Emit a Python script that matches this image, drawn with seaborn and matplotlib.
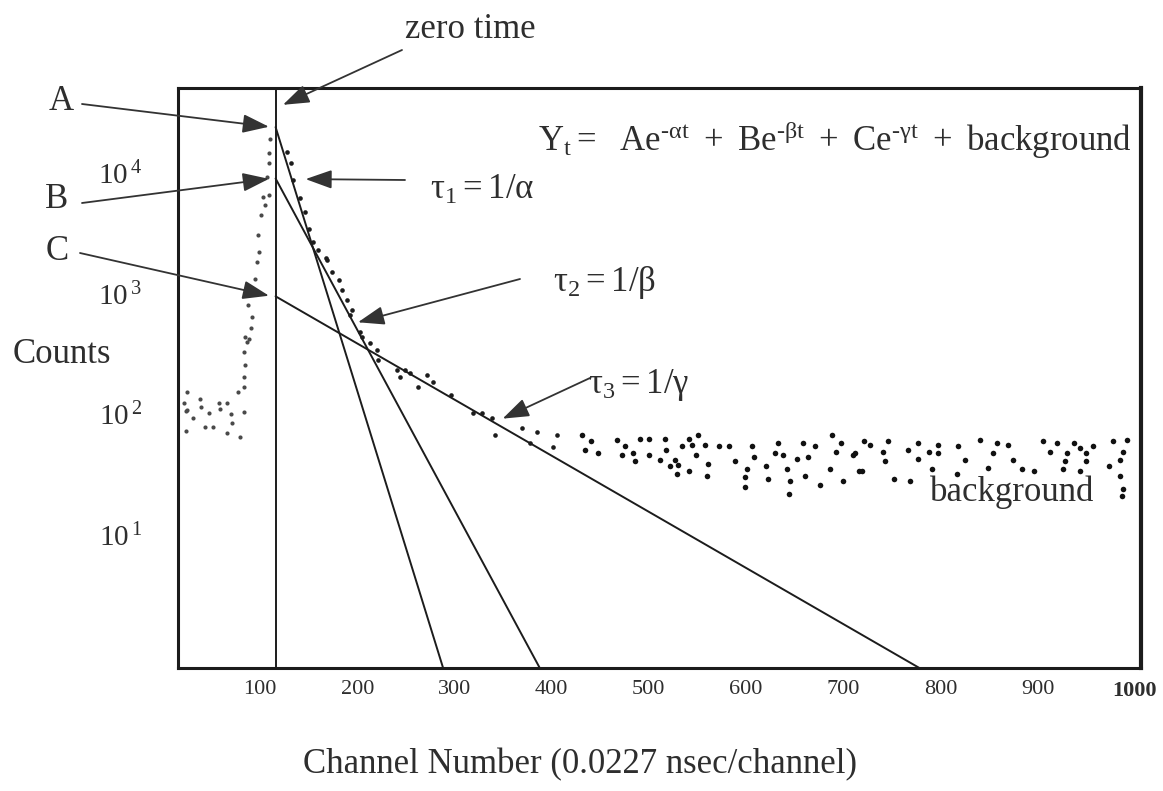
import numpy as np
import pandas as pd
import matplotlib
matplotlib.use("Agg")
import matplotlib.pyplot as plt
from matplotlib.ticker import NullLocator
import seaborn as sns

# ---------------------------------------------------------------------------
# Fit components: Y(t) = A e^{-t/tau1} + B e^{-t/tau2} + C e^{-t/tau3} + bg
# ---------------------------------------------------------------------------
zero_time = 116                       # channel of zero time
components = ["A", "B", "C"]
amplitudes = [24000, 9000, 950]       # counts at zero time
lifetimes = [16.7, 29.1, 93.4]        # channels

# Measured spectrum: flat pre-peak region and rising edge
rise_channel = [22, 25, 24, 25, 38, 39, 47, 31, 58, 66, 59, 70, 83, 43, 52, 71, 24, 66, 79,
                77, 83, 84, 85, 83, 87, 89, 85, 91, 92, 88, 95, 97, 99, 98, 101, 105, 103,
                109, 107, 109, 109, 110]
rise_counts = [124, 109, 107, 153, 134, 115, 103, 93, 124, 124, 111, 101, 105, 79, 79, 85, 73, 70, 65,
               153, 169, 204, 257, 329, 398, 421, 438, 520, 641, 806, 1320, 1830, 2210, 3070, 4490,
               5430, 6330, 6580, 9270, 12100, 14600, 19100]

# Measured spectrum: multi-exponential decay
decay_channel = [128, 132, 134, 141, 146, 150, 155, 160, 168, 169, 174, 181, 184, 189, 193, 195,
                 203, 205, 213, 220, 221, 241, 244, 249, 254, 263, 272, 278, 296, 319, 328, 339,
                 342, 370, 378, 385, 401, 406]
decay_counts = [14900, 12100, 8750, 6210, 4760, 3430, 2680, 2300, 1980, 1900, 1510, 1300, 1070, 887,
                667, 733, 482, 438, 391, 342, 283, 234, 204, 234, 220, 169, 212, 185, 145, 103, 103,
                93, 67, 77, 58, 71, 54, 67]

# Measured spectrum: constant background tail
bg_channel = [431, 441, 434, 448, 467, 476, 491, 500, 472, 484, 486, 500, 512, 517, 518, 527, 522,
              530, 529, 534, 541, 551, 544, 549, 541, 558, 561, 560, 572, 582, 589, 601, 599, 599,
              606, 608, 621, 623, 633, 630, 638, 642, 645, 644, 659, 652, 664, 671, 661, 676, 688,
              698, 693, 686, 700, 710, 716, 721, 712, 719, 728, 741, 746, 743, 752, 769, 767, 777,
              777, 788, 798, 798, 791, 818, 825, 817, 841, 858, 854, 870, 875, 849, 884, 896, 906,
              913, 920, 930, 928, 926, 937, 944, 950, 950, 944, 957, 978, 992, 988, 985, 973, 985,
              988, 987]
bg_counts = [67, 60, 51, 48, 61, 55, 63, 63, 46, 48, 41, 46, 42, 63, 51, 42, 37, 38, 32, 55, 63, 67,
             56, 46, 34, 56, 39, 31, 55, 55, 41, 35, 30, 25, 55, 44, 37, 29, 58, 48, 46, 35, 28, 22,
             58, 43, 44, 55, 31, 26, 67, 58, 49, 35, 28, 46, 34, 60, 48, 34, 56, 49, 60, 41, 29, 28,
             51, 58, 43, 49, 56, 48, 35, 55, 42, 32, 61, 58, 48, 56, 42, 36, 35, 34, 60, 49, 58, 48,
             41, 35, 58, 53, 48, 41, 34, 55, 60, 61, 49, 42, 37, 31, 24, 21]

x_ticks = [100, 200, 300, 400, 500, 600, 700, 800, 900, 1000]
y_ticks = [10, 100, 1000, 10000]
y_tick_labels = [r"$\mathregular{10^{\,1}}$", r"$\mathregular{10^{\,2}}$",
                 r"$\mathregular{10^{\,3}}$", r"$\mathregular{10^{\,4}}$"]

# ---------------------------------------------------------------------------
sns.set_style("white")
plt.rcParams["font.family"] = ["Liberation Serif", "DejaVu Serif"]
plt.rcParams["mathtext.fontset"] = "custom"
plt.rcParams["mathtext.rm"] = "Liberation Serif"
plt.rcParams["mathtext.it"] = "Liberation Serif"

W, H = 1163, 791
fig = plt.figure(figsize=(W / 100, H / 100), dpi=100)
ax = fig.add_axes([178 / W, 1 - 668 / H, (1141 - 178) / W, (668 - 88) / H])
ax.set_yscale("log")

ink = "#1c1c1c"
text_ink = "#2e2e2e"


def fig_xy(px, py):
    """Figure-fraction position from pixel offsets measured from the top-left."""
    return px / W, 1 - py / H


# fitted exponential components
chan = np.linspace(zero_time, 1010, 600)
rows = []
for name, amp, tau in zip(components, amplitudes, lifetimes):
    vals = amp * np.exp(-(chan - zero_time) / tau)
    keep = vals > 0.3
    rows.append(pd.DataFrame({"channel": chan[keep], "counts": vals[keep], "component": name}))
fit_df = pd.concat(rows, ignore_index=True)
sns.lineplot(data=fit_df, x="channel", y="counts", units="component", estimator=None,
             color=ink, linewidth=1.4, ax=ax, legend=False)

# zero-time marker
ax.axvline(zero_time, color=ink, linewidth=1.4)

# measured points
rise_df = pd.DataFrame({"channel": rise_channel, "counts": rise_counts})
decay_df = pd.DataFrame({"channel": decay_channel, "counts": decay_counts})
bg_df = pd.DataFrame({"channel": bg_channel, "counts": bg_counts})
sns.scatterplot(data=rise_df, x="channel", y="counts", color="#4a4a4a", s=9, linewidth=0, ax=ax)
sns.scatterplot(data=decay_df, x="channel", y="counts", color=ink, s=11, linewidth=0, ax=ax)
sns.scatterplot(data=bg_df, x="channel", y="counts", color="#111111", s=16, linewidth=0,
                marker="o", ax=ax)

ax.set_xlim(15.6, 1006.4)
ax.set_ylim(0.79, 50600)
ax.set_xlabel("")
ax.set_ylabel("")

ax.set_xticks(x_ticks)
ax.set_xticklabels([str(t) for t in x_ticks], fontsize=16, color=text_ink)
ax.get_xticklabels()[-1].set_fontweight("bold")
ax.set_yticks(y_ticks)
ax.set_yticklabels(y_tick_labels, fontsize=21, color=text_ink)
ax.yaxis.set_minor_locator(NullLocator())
ax.tick_params(axis="x", length=0, pad=9)
ax.tick_params(axis="y", length=0, pad=26)

for side, spine in ax.spines.items():
    spine.set_visible(True)
    spine.set_color(ink)
    spine.set_linewidth(2.2)
ax.spines["right"].set_linewidth(3)

# axis titles
fig.text(*fig_xy(580, 765), "Channel Number (0.0227 nsec/channel)", fontsize=25,
         color=text_ink, ha="center", va="center")
fig.text(*fig_xy(62, 355), "Counts", fontsize=25, color=text_ink, ha="center", va="center")

# annotations
arrow = dict(arrowstyle="-|>,head_length=0.9,head_width=0.32", color="#333333",
             lw=1.3, shrinkA=0, shrinkB=2, mutation_scale=18)


def pointer(tip, tail_px):
    ax.annotate("", xy=tip, xycoords="data", xytext=(tail_px[0], H - tail_px[1]),
                textcoords="figure pixels", arrowprops=arrow, annotation_clip=False)


fig.text(*fig_xy(470, 30), "zero time", fontsize=25, color=text_ink, ha="center", va="center")
pointer((121, 35900), (402, 50))

for name, amp, (lx, ly), tail in zip(components, amplitudes,
                                     [(61, 101), (57, 200), (57, 251)],
                                     [(82, 104), (82, 203), (80, 253)]):
    fig.text(*fig_xy(lx, ly), name, fontsize=25, color=text_ink, ha="center", va="center")
    pointer((zero_time - 4, amp), tail)

fig.text(*fig_xy(430, 190), r"$\mathregular{\tau_1 = 1/\alpha}$", fontsize=25,
         color=text_ink, ha="left", va="center")
pointer((144, 8900), (405, 180))
fig.text(*fig_xy(553, 283), r"$\mathregular{\tau_2 = 1/\beta}$", fontsize=25,
         color=text_ink, ha="left", va="center")
pointer((198, 571), (520, 279))
fig.text(*fig_xy(588, 385), r"$\mathregular{\tau_3 = 1/\gamma}$", fontsize=25,
         color=text_ink, ha="left", va="center")
pointer((347, 90), (590, 378))

fig.text(*fig_xy(538, 140),
         r"$\mathregular{Y_t =\ \ Ae^{\text{-}\alpha t}\ +\ Be^{\text{-}\beta t}\ +\ "
         r"Ce^{\text{-}\gamma t}\ +\ }$background",
         fontsize=25, color=text_ink, ha="left", va="center")
fig.text(*fig_xy(1012, 492), "background", fontsize=25, color=text_ink,
         ha="center", va="center")

fig.savefig("out.png", dpi=100, facecolor="white")
